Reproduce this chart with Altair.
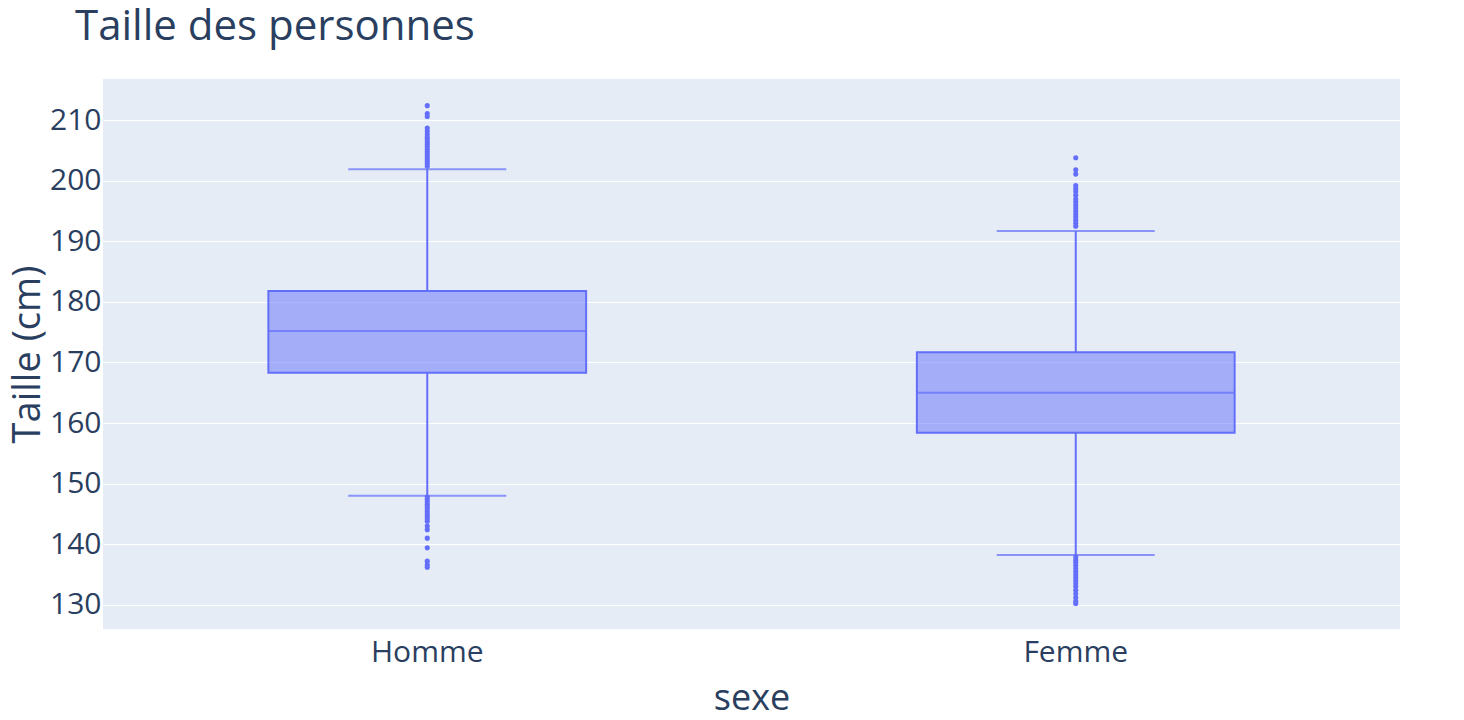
import altair as alt
import pandas as pd

# box statistics (cm)
sexes = ["Homme", "Femme"]
lower_fence = [148.0, 138.2]
q1 = [168.3, 158.4]
median = [175.2, 165.0]
q3 = [181.8, 171.7]
upper_fence = [201.9, 191.7]

# outliers
homme_outliers = [212.4, 211.1, 210.6, 208.7, 208.2, 207.7, 207.2, 206.8, 206.4, 206.0,
                  205.6, 205.2, 204.8, 204.4, 204.0, 203.6, 203.2, 202.8, 202.4,
                  147.8, 147.4, 147.0, 146.6, 146.2, 145.8, 145.4, 145.0, 144.6, 144.2,
                  143.8, 143.0, 142.4, 141.0, 139.4, 137.2, 136.6, 136.2]
femme_outliers = [203.8, 201.8, 201.1, 199.2, 198.7, 198.2, 197.6, 197.0, 196.5, 196.0,
                  195.5, 195.0, 194.5, 194.0, 193.5, 193.0, 192.5,
                  137.9, 137.4, 137.0, 136.5, 136.0, 135.5, 135.0, 134.5, 134.0, 133.5,
                  133.0, 132.4, 131.8, 131.2, 130.6, 130.2]

stats = pd.DataFrame({
    "sexe": sexes, "lower": lower_fence, "q1": q1,
    "median": median, "q3": q3, "upper": upper_fence,
})
outliers = pd.DataFrame({
    "sexe": ["Homme"] * len(homme_outliers) + ["Femme"] * len(femme_outliers),
    "taille": homme_outliers + femme_outliers,
})

BLUE = "#636efa"
INK = "#2a3f5f"
FONT = "Open Sans"

x_enc = alt.X(
    "sexe:N", sort=sexes, title="sexe",
    scale=alt.Scale(paddingInner=0, paddingOuter=0),
    axis=alt.Axis(labelAngle=0, labelFontSize=30, titleFontSize=36, labelPadding=8,
                  titlePadding=14, ticks=False, domain=False, grid=False),
)
y_scale = alt.Scale(domain=[126.0, 216.8], nice=False, zero=False)
y_axis = alt.Axis(values=list(range(130, 211, 10)), labelFontSize=30, titleFontSize=38,
                  labelPadding=2, titlePadding=2, ticks=False, domain=False,
                  gridColor="white", gridWidth=1)

base = alt.Chart(stats).encode(x=x_enc)

whisk_lo = base.mark_rule(color=BLUE, strokeWidth=2).encode(
    y=alt.Y("lower:Q", scale=y_scale, axis=y_axis, title="Taille (cm)"), y2="q1:Q")
whisk_hi = base.mark_rule(color=BLUE, strokeWidth=2).encode(y="q3:Q", y2="upper:Q")
box = base.mark_bar(
    width=alt.RelativeBandSize(0.49), color=BLUE, fillOpacity=0.5,
    stroke=BLUE, strokeWidth=2,
).encode(y="q1:Q", y2="q3:Q")
med = base.mark_tick(color=BLUE, size=318, thickness=2).encode(y="median:Q")
cap_lo = base.mark_tick(color=BLUE, size=158, thickness=2).encode(y="lower:Q")
cap_hi = base.mark_tick(color=BLUE, size=158, thickness=2).encode(y="upper:Q")
pts = alt.Chart(outliers).mark_circle(color=BLUE, size=26, opacity=1).encode(
    x=alt.X("sexe:N", sort=sexes), y="taille:Q")

chart = alt.layer(whisk_lo, whisk_hi, box, med, cap_lo, cap_hi, pts).properties(
    width=1297, height=550,
    background="white",
    autosize=alt.AutoSizeParams(type="none"),
    padding={"left": 95, "top": 71, "right": 56, "bottom": 83},
    title=alt.TitleParams("Taille des personnes", anchor="start", frame="group",
                          dx=-28, offset=30, fontSize=42, fontWeight="normal",
                          color=INK, font=FONT),
).configure_view(
    fill="#E5ECF6", stroke=None,
).configure_axis(
    labelFont=FONT, titleFont=FONT, labelColor=INK, titleColor=INK,
    titleFontWeight="normal",
)

chart.save("out.html", embed_options={"renderer": "svg", "actions": False})
